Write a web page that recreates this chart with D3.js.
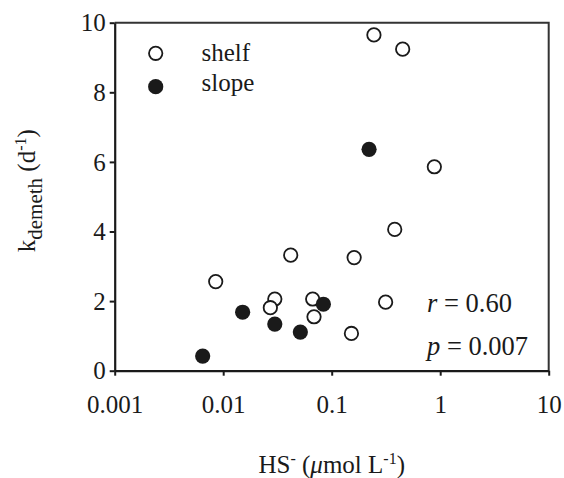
<!DOCTYPE html>
<html>
<head>
<meta charset="utf-8">
<script src="https://cdn.jsdelivr.net/npm/d3@7"></script>
</head>
<body style="margin:0">
<svg id="chart" width="564" height="478"></svg>
<script>
// HS- (umol L-1) and k_demeth (d-1)
const shelfHS = [0.245, 0.451, 0.883, 0.381, 0.00853, 0.0299, 0.0272, 0.0419, 0.161, 0.0668, 0.0687, 0.152, 0.314];
const shelfK  = [9.65, 9.24, 5.86, 4.06, 2.56, 2.06, 1.81, 3.32, 3.25, 2.06, 1.55, 1.07, 1.97];
const slopeHS = [0.221, 0.0151, 0.00647, 0.0299, 0.0838, 0.0514];
const slopeK  = [6.36, 1.68, 0.42, 1.34, 1.91, 1.11];
const xTickValues = [0.001, 0.01, 0.1, 1, 10];
const xTickLabels = ["0.001", "0.01", "0.1", "1", "10"];
const yTickValues = [0, 2, 4, 6, 8, 10];
const seriesNames = ["shelf", "slope"];
const rValue = "0.60";
const pValue = "0.007";

const FONT = '"Liberation Serif", "Times New Roman", Tinos, "Nimbus Roman", serif';
const INK = "#1a1a1a";
const chart = d3.select("#chart");
const mLeft = 114.7, mRight = 548.7, mTop = 22.7, mBottom = 370.7;

const xScale = d3.scaleLog().domain([0.001, 10]).range([mLeft, mRight]);
const yScale = d3.scaleLinear().domain([0, 10]).range([mBottom, mTop]);

function serif(sel) {
  return sel.style("font-family", FONT, "important");
}
function addText(parent, xp, yp, size) {
  return serif(parent.append("text").attr("x", xp).attr("y", yp)
    .attr("font-family", "Liberation Serif")
    .style("font-size", size + "px").attr("fill", INK));
}

// frame (top and right)
chart.append("path")
  .attr("d", `M${mLeft},${mTop}H${mRight}V${mBottom}`)
  .attr("fill", "none").attr("stroke", "#333").attr("stroke-width", 2);

// x axis
const xAxisG = chart.append("g").attr("transform", `translate(0,${mBottom})`)
  .call(d3.axisBottom(xScale).tickValues(xTickValues).tickFormat((d, i) => xTickLabels[i]).tickSize(5).tickSizeOuter(0));
xAxisG.attr("font-family", "Liberation Serif").attr("font-size", 25);
xAxisG.select(".domain").attr("stroke", INK).attr("stroke-width", 2.2);
xAxisG.selectAll(".tick line").attr("stroke", INK).attr("stroke-width", 2);
serif(xAxisG.selectAll(".tick text").attr("y", 42.3).attr("dy", 0)
  .style("font-size", "25px").attr("fill", INK));

// y axis
const yAxisG = chart.append("g").attr("transform", `translate(${mLeft},0)`)
  .call(d3.axisLeft(yScale).tickValues(yTickValues).tickFormat(d3.format("d")).tickSize(5).tickPadding(4).tickSizeOuter(0));
yAxisG.attr("font-family", "Liberation Serif").attr("font-size", 25);
yAxisG.select(".domain").attr("stroke", INK).attr("stroke-width", 2.2);
yAxisG.selectAll(".tick line").attr("stroke", INK).attr("stroke-width", 2);
serif(yAxisG.selectAll(".tick text").attr("dy", "0.33em")
  .style("font-size", "25px").attr("fill", INK));

// points
const shelfPts = shelfHS.map((h, i) => ({ h, k: shelfK[i] }));
const slopePts = slopeHS.map((h, i) => ({ h, k: slopeK[i] }));

chart.append("g").selectAll("circle").data(shelfPts).join("circle")
  .attr("cx", d => xScale(d.h)).attr("cy", d => yScale(d.k)).attr("r", 6.7)
  .attr("fill", "#fff").attr("stroke", INK).attr("stroke-width", 1.8);

chart.append("g").selectAll("circle").data(slopePts).join("circle")
  .attr("cx", d => xScale(d.h)).attr("cy", d => yScale(d.k)).attr("r", 7.6)
  .attr("fill", INK);

// legend
chart.append("circle").attr("cx", 155.7).attr("cy", 53.3).attr("r", 6.7)
  .attr("fill", "#fff").attr("stroke", INK).attr("stroke-width", 1.8);
chart.append("circle").attr("cx", 155.7).attr("cy", 86.7).attr("r", 7.6).attr("fill", INK);
addText(chart, 201.5, 61, 25).text(seriesNames[0]);
addText(chart, 201.5, 90.5, 25).text(seriesNames[1]);

// stats
const t1 = addText(chart, 427, 311.5, 26.5);
t1.append("tspan").style("font-style", "italic").text("r");
t1.append("tspan").text(" = " + rValue);
const t2 = addText(chart, 427, 354.5, 26.5);
t2.append("tspan").style("font-style", "italic").text("p");
t2.append("tspan").text(" = " + pValue);

// x title
const xt = addText(chart, (mLeft + mRight) / 2, 472.5, 25).attr("text-anchor", "middle");
xt.append("tspan").text("HS");
xt.append("tspan").attr("dy", -9).style("font-size", "16px").text("-");
xt.append("tspan").attr("dy", 9).text(" (");
xt.append("tspan").style("font-style", "italic").text("μ");
xt.append("tspan").text("mol L");
xt.append("tspan").attr("dy", -9).style("font-size", "16px").text("-1");
xt.append("tspan").attr("dy", 9).text(")");

// y title
const yt = addText(chart, 0, 0, 25)
  .attr("transform", `translate(35,${(mTop + mBottom) / 2 - 6}) rotate(-90)`)
  .attr("text-anchor", "middle");
yt.append("tspan").text("k");
yt.append("tspan").attr("dy", 7).style("font-size", "21px").text("demeth");
yt.append("tspan").attr("dy", -7).text(" (d");
yt.append("tspan").attr("dy", -9).style("font-size", "16px").text("-1");
yt.append("tspan").attr("dy", 9).text(")");

serif(chart.selectAll("text, tspan"));
</script>
</body>
</html>
